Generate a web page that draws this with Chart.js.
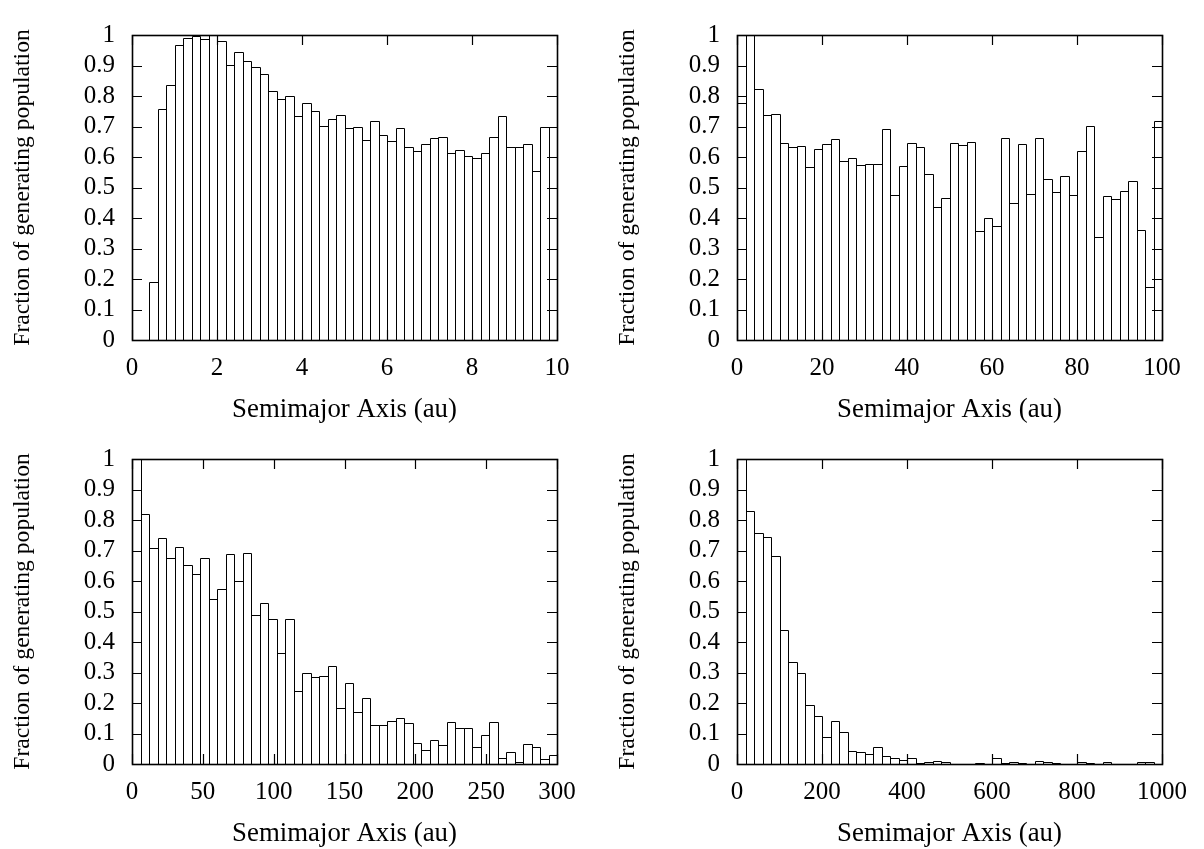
<!DOCTYPE html>
<html>
<head>
<meta charset="utf-8">
<script src="https://cdn.jsdelivr.net/npm/chart.js@4"></script>
<style>
  html, body { margin: 0; padding: 0; background: #fff; }
  body { width: 1204px; height: 849px; position: relative; overflow: hidden; }
  canvas { position: absolute; }
</style>
</head>
<body>
<canvas id="c1" width="600" height="424" style="left:0px;top:0px"></canvas>
<canvas id="c2" width="600" height="424" style="left:605px;top:0px"></canvas>
<canvas id="c3" width="600" height="424" style="left:0px;top:424px"></canvas>
<canvas id="c4" width="600" height="424" style="left:605px;top:424px"></canvas>
<script>
// ---- data ----
const xTitle = 'Semimajor Axis (au)';
const yTitle = 'Fraction of generating population';
const yTicks = [0, 0.1, 0.2, 0.3, 0.4, 0.5, 0.6, 0.7, 0.8, 0.9, 1];
const yTickLabels = ['0', '0.1', '0.2', '0.3', '0.4', '0.5', '0.6', '0.7', '0.8', '0.9', '1'];

const binWidth1 = 0.2;
const xMax1 = 10;
const xTicks1 = [0, 2, 4, 6, 8, 10];
const xTickLabels1 = ['0', '2', '4', '6', '8', '10'];
const values1 = [0, 0, 0.19, 0.757, 0.836, 0.967, 0.989, 0.998, 0.987, 1.0,
  0.981, 0.902, 0.945, 0.915, 0.894, 0.871, 0.817, 0.790, 0.800, 0.736,
  0.778, 0.752, 0.702, 0.725, 0.739, 0.696, 0.697, 0.655, 0.717, 0.671,
  0.651, 0.694, 0.633, 0.620, 0.642, 0.662, 0.667, 0.612, 0.624, 0.602,
  0.597, 0.613, 0.664, 0.736, 0.632, 0.634, 0.643, 0.554, 0.697, 0.699];

const binWidth2 = 2;
const xMax2 = 100;
const xTicks2 = [0, 20, 40, 60, 80, 100];
const xTickLabels2 = ['0', '20', '40', '60', '80', '100'];
const values2 = [0.776, 1.0, 0.823, 0.739, 0.740, 0.647, 0.632, 0.637, 0.567, 0.625,
  0.643, 0.660, 0.588, 0.596, 0.574, 0.577, 0.578, 0.693, 0.477, 0.569,
  0.647, 0.634, 0.543, 0.437, 0.464, 0.645, 0.639, 0.649, 0.358, 0.399,
  0.374, 0.663, 0.450, 0.643, 0.478, 0.663, 0.529, 0.486, 0.539, 0.474,
  0.621, 0.702, 0.337, 0.472, 0.461, 0.487, 0.520, 0.360, 0.173, 0.719];

const binWidth3 = 6;
const xMax3 = 300;
const xTicks3 = [0, 50, 100, 150, 200, 250, 300];
const xTickLabels3 = ['0', '50', '100', '150', '200', '250', '300'];
const values3 = [1.0, 0.819, 0.708, 0.742, 0.677, 0.713, 0.653, 0.623, 0.675, 0.542,
  0.574, 0.688, 0.600, 0.692, 0.488, 0.527, 0.475, 0.365, 0.475, 0.238,
  0.297, 0.286, 0.289, 0.320, 0.184, 0.267, 0.170, 0.216, 0.127, 0.127,
  0.141, 0.150, 0.135, 0.068, 0.045, 0.079, 0.061, 0.137, 0.119, 0.119,
  0.056, 0.095, 0.137, 0.019, 0.038, 0.005, 0.065, 0.055, 0.016, 0.028];

const binWidth4 = 20;
const xMax4 = 1000;
const xTicks4 = [0, 200, 400, 600, 800, 1000];
const xTickLabels4 = ['0', '200', '400', '600', '800', '1000'];
const values4 = [1.0, 0.830, 0.756, 0.744, 0.681, 0.438, 0.336, 0.298, 0.194, 0.156,
  0.088, 0.141, 0.104, 0.044, 0.040, 0.032, 0.055, 0.026, 0.021, 0.014,
  0.021, 0.004, 0.008, 0.009, 0.006, 0, 0, 0, 0.004, 0,
  0.021, 0.002, 0.008, 0.002, 0, 0.009, 0.008, 0.004, 0, 0,
  0.005, 0.004, 0, 0.008, 0, 0, 0, 0.005, 0.005, 0];

// ---- styling ----
const FONT_FAMILY = '"Liberation Serif", "Times New Roman", Times, serif';
const TICK_SIZE = 25;
const XTITLE_SIZE = 26.8;
const YTITLE_SIZE = 23.6;

const histPlugin = {
  id: 'histOutline',
  afterDatasetsDraw(chart, args, opts) {
    const ctx = chart.ctx;
    const area = chart.chartArea;
    const xs = chart.scales.x, ys = chart.scales.y;
    const w = opts.binWidth;
    const meta = chart.getDatasetMeta(0);
    ctx.save();
    ctx.beginPath();
    ctx.rect(area.left, area.top - 1, area.right - area.left, area.bottom - area.top + 1);
    ctx.clip();
    ctx.strokeStyle = '#000';
    ctx.lineWidth = 1;
    const snap = v => Math.round(v) + 0.5;
    meta.data.forEach((el, i) => {
      const raw = chart.data.datasets[0].data[i].y;
      if (!(raw > 0)) return;
      const l = snap(xs.getPixelForValue(i * w));
      const r = snap(xs.getPixelForValue((i + 1) * w));
      const t = snap(ys.getPixelForValue(Math.min(raw, 1)));
      const b = snap(ys.getPixelForValue(0));
      ctx.beginPath();
      ctx.moveTo(l, b);
      ctx.lineTo(l, t);
      ctx.lineTo(r, t);
      ctx.lineTo(r, b);
      ctx.stroke();
    });
    ctx.restore();
  },
  afterDraw(chart, args, opts) {
    const ctx = chart.ctx;
    const a = chart.chartArea;
    const xs = chart.scales.x, ys = chart.scales.y;
    ctx.save();
    ctx.strokeStyle = '#000';
    ctx.lineWidth = 1.2;
    const L = 10;
    opts.xTicks.forEach(v => {
      const p = Math.round(xs.getPixelForValue(v)) + 0.5;
      ctx.beginPath();
      ctx.moveTo(p, a.bottom); ctx.lineTo(p, a.bottom - L);
      ctx.moveTo(p, a.top); ctx.lineTo(p, a.top + L);
      ctx.stroke();
    });
    yTicks.forEach(v => {
      const p = Math.round(ys.getPixelForValue(v)) + 0.5;
      ctx.beginPath();
      ctx.moveTo(a.left, p); ctx.lineTo(a.left + L, p);
      ctx.moveTo(a.right, p); ctx.lineTo(a.right - L, p);
      ctx.stroke();
    });
    ctx.lineWidth = 1.6;
    ctx.strokeRect(Math.round(a.left) + 0.5, Math.round(a.top) + 0.5,
      Math.round(a.right - a.left), Math.round(a.bottom - a.top));
    ctx.restore();
  }
};

function makeChart(id, values, binWidth, xMax, xTicks, xTickLabels) {
  const font = { family: FONT_FAMILY, size: TICK_SIZE, lineHeight: 1.2 };
  const data = values.map((v, i) => ({ x: (i + 0.5) * binWidth, y: v }));
  return new Chart(document.getElementById(id), {
    type: 'bar',
    data: {
      datasets: [{
        data: data,
        backgroundColor: '#ffffff',
        borderWidth: 0,
        barPercentage: 1,
        categoryPercentage: 1
      }]
    },
    plugins: [histPlugin],
    options: {
      responsive: false,
      animation: false,
      devicePixelRatio: 1,
      layout: { padding: { left: 0, right: 43, top: 35, bottom: 0 } },
      plugins: {
        legend: { display: false },
        tooltip: { enabled: false },
        histOutline: { binWidth: binWidth, xTicks: xTicks }
      },
      scales: {
        x: {
          type: 'linear',
          min: 0, max: xMax,
          offset: false,
          grid: { display: false, drawTicks: false },
          border: { display: false },
          afterBuildTicks: s => { s.ticks = xTicks.map(v => ({ value: v })); },
          afterFit: s => { s.height = 84; },
          ticks: {
            color: '#000', font: font, padding: 13, maxRotation: 0, minRotation: 0,
            autoSkip: false,
            callback: (value, index) => xTickLabels[index]
          },
          title: {
            display: true, text: xTitle, color: '#000',
            font: { family: FONT_FAMILY, size: XTITLE_SIZE, lineHeight: 1 },
            padding: { top: 0, bottom: 0.5 }
          }
        },
        y: {
          type: 'linear',
          min: 0, max: 1,
          grid: { display: false, drawTicks: false },
          border: { display: false },
          afterBuildTicks: s => { s.ticks = yTicks.map(v => ({ value: v })); },
          afterFit: s => { s.width = 132; },
          ticks: {
            color: '#000', font: { family: FONT_FAMILY, size: TICK_SIZE, lineHeight: 1 },
            padding: 17, autoSkip: false,
            callback: (value, index) => yTickLabels[index]
          },
          title: {
            display: true, text: yTitle, color: '#000',
            font: { family: FONT_FAMILY, size: YTITLE_SIZE, lineHeight: 1 },
            padding: { top: 10.5, bottom: 0 }
          }
        }
      }
    }
  });
}

makeChart('c1', values1, binWidth1, xMax1, xTicks1, xTickLabels1);
makeChart('c2', values2, binWidth2, xMax2, xTicks2, xTickLabels2);
makeChart('c3', values3, binWidth3, xMax3, xTicks3, xTickLabels3);
makeChart('c4', values4, binWidth4, xMax4, xTicks4, xTickLabels4);
</script>
</body>
</html>
